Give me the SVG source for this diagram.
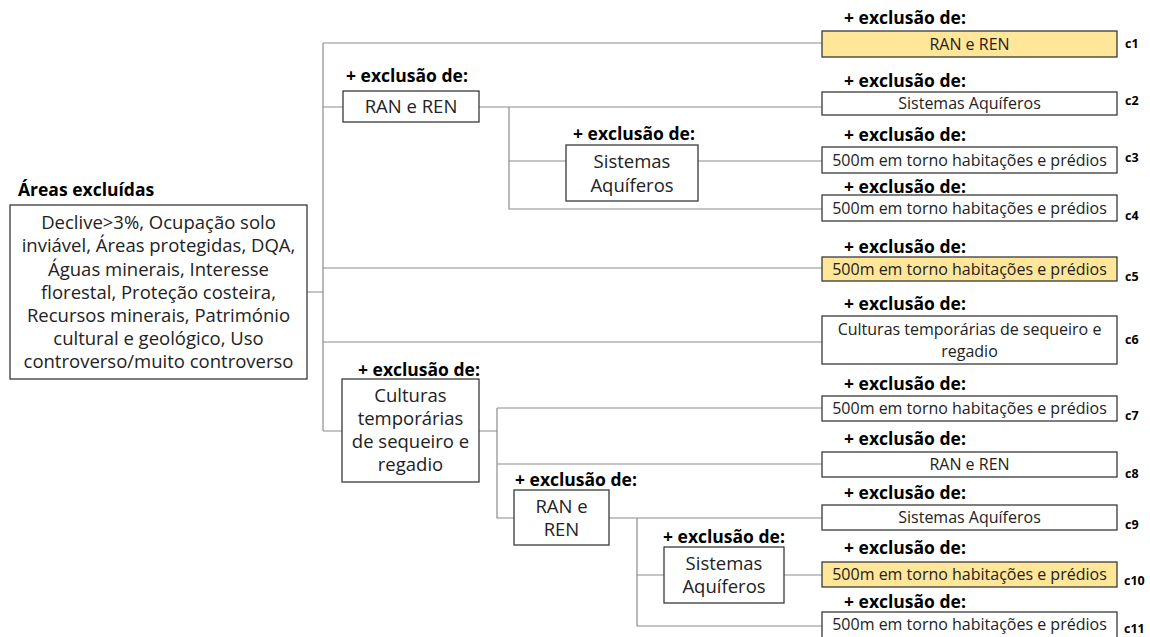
<svg xmlns="http://www.w3.org/2000/svg" width="1150" height="637" viewBox="0 0 1150 637">
<style>
.bx{fill:#ffffff;stroke:#3a3a3a;stroke-width:1.3}
.hl{fill:#FFE699;stroke:#3a3a3a;stroke-width:1.3}
.ln{fill:none;stroke:#8c8c8c;stroke-width:1.2}
.t{font-family:"Open Sans","Noto Sans",sans-serif;font-size:16px;fill:#222;text-anchor:middle}
.tl{font-family:"Open Sans","Noto Sans",sans-serif;font-size:18.5px;fill:#222;text-anchor:middle}
.lb{font-family:"Open Sans","Noto Sans",sans-serif;font-size:17.5px;font-weight:bold;fill:#000}
.c{font-family:"Open Sans","Noto Sans",sans-serif;font-size:12.5px;font-weight:bold;fill:#000}
</style>
<rect width="1150" height="637" fill="#ffffff"/>
<g id="connectors">
<path class="ln" d="M307,292 H323 M323,43 V431 M323,43 H822 M323,107 H343 M323,268 H822 M323,342 H822 M323,431 H342"/>
<path class="ln" d="M479,107 H822 M509,107 V209 H822 M509,161 H566 M698,161 H822"/>
<path class="ln" d="M479,431 H497 M497,408 V518 H514 M497,408 H822 M497,464 H822 M609,518 H822 M637,518 V626 H822 M637,575 H664 M784,575 H822"/>
</g>
<g id="root">
<text class="lb" x="18" y="196">Áreas excluídas</text>
<rect class="bx" x="10" y="205" width="297" height="174"/>
<text class="tl" x="158.5" y="229">Declive&gt;3%, Ocupação solo</text>
<text class="tl" x="158.5" y="252">inviável, Áreas protegidas, DQA,</text>
<text class="tl" x="158.5" y="276">Águas minerais, Interesse</text>
<text class="tl" x="158.5" y="299">florestal, Proteção costeira,</text>
<text class="tl" x="158.5" y="322">Recursos minerais, Património</text>
<text class="tl" x="158.5" y="345">cultural e geológico, Uso</text>
<text class="tl" x="158.5" y="368">controverso/muito controverso</text>
</g>
<g id="ran1">
<text class="lb" x="346" y="82">+ exclusão de:</text>
<rect class="bx" x="343" y="91" width="136" height="31"/>
<text class="tl" x="411" y="113">RAN e REN</text>
</g>
<g id="sis1">
<text class="lb" x="573" y="140">+ exclusão de:</text>
<rect class="bx" x="566" y="145" width="132" height="56"/>
<text class="tl" x="632" y="168">Sistemas</text>
<text class="tl" x="632" y="192">Aquíferos</text>
</g>
<g id="cult">
<text class="lb" x="358" y="376">+ exclusão de:</text>
<rect class="bx" x="342" y="379" width="137" height="103"/>
<text class="tl" x="410.5" y="402">Culturas</text>
<text class="tl" x="410.5" y="425">temporárias</text>
<text class="tl" x="410.5" y="448">de sequeiro e</text>
<text class="tl" x="410.5" y="471">regadio</text>
</g>
<g id="ran2">
<text class="lb" x="515" y="486">+ exclusão de:</text>
<rect class="bx" x="514" y="490" width="95" height="55"/>
<text class="tl" x="561.5" y="513">RAN e</text>
<text class="tl" x="561.5" y="536">REN</text>
</g>
<g id="sis2">
<text class="lb" x="663" y="543">+ exclusão de:</text>
<rect class="bx" x="664" y="547" width="120" height="56"/>
<text class="tl" x="724" y="570">Sistemas</text>
<text class="tl" x="724" y="593">Aquíferos</text>
</g>
<g id="c1">
<text class="lb" x="844" y="24">+ exclusão de:</text>
<rect class="hl" x="822" y="31" width="295" height="26"/>
<text class="t" x="969.5" y="50">RAN e REN</text>
<text class="c" x="1125" y="48">c1</text>
</g>
<g id="c2">
<text class="lb" x="844" y="87">+ exclusão de:</text>
<rect class="bx" x="822" y="92" width="295" height="23"/>
<text class="t" x="969.5" y="109">Sistemas Aquíferos</text>
<text class="c" x="1125" y="105">c2</text>
</g>
<g id="c3">
<text class="lb" x="844" y="141">+ exclusão de:</text>
<rect class="bx" x="822" y="147" width="295" height="26"/>
<text class="t" x="969.5" y="166">500m em torno habitações e prédios</text>
<text class="c" x="1125" y="162">c3</text>
</g>
<g id="c4">
<text class="lb" x="844" y="193">+ exclusão de:</text>
<rect class="bx" x="822" y="195" width="295" height="26"/>
<text class="t" x="969.5" y="214">500m em torno habitações e prédios</text>
<text class="c" x="1125" y="220">c4</text>
</g>
<g id="c5">
<text class="lb" x="844" y="253">+ exclusão de:</text>
<rect class="hl" x="822" y="257" width="295" height="24"/>
<text class="t" x="969.5" y="275">500m em torno habitações e prédios</text>
<text class="c" x="1125" y="281">c5</text>
</g>
<g id="c6">
<text class="lb" x="844" y="310">+ exclusão de:</text>
<rect class="bx" x="822" y="316" width="295" height="48"/>
<text class="t" x="969.5" y="335">Culturas temporárias de sequeiro e</text>
<text class="t" x="969.5" y="357">regadio</text>
<text class="c" x="1125" y="344">c6</text>
</g>
<g id="c7">
<text class="lb" x="844" y="390">+ exclusão de:</text>
<rect class="bx" x="822" y="396" width="295" height="25"/>
<text class="t" x="969.5" y="414">500m em torno habitações e prédios</text>
<text class="c" x="1125" y="420">c7</text>
</g>
<g id="c8">
<text class="lb" x="844" y="445">+ exclusão de:</text>
<rect class="bx" x="822" y="452" width="295" height="25"/>
<text class="t" x="969.5" y="470">RAN e REN</text>
<text class="c" x="1125" y="478">c8</text>
</g>
<g id="c9">
<text class="lb" x="844" y="499">+ exclusão de:</text>
<rect class="bx" x="822" y="505" width="295" height="25"/>
<text class="t" x="969.5" y="523">Sistemas Aquíferos</text>
<text class="c" x="1125" y="529">c9</text>
</g>
<g id="c10">
<text class="lb" x="844" y="554">+ exclusão de:</text>
<rect class="hl" x="822" y="562" width="295" height="25"/>
<text class="t" x="969.5" y="580">500m em torno habitações e prédios</text>
<text class="c" x="1124" y="585">c10</text>
</g>
<g id="c11">
<text class="lb" x="844" y="608">+ exclusão de:</text>
<rect class="bx" x="822" y="612" width="295" height="30"/>
<text class="t" x="969.5" y="630">500m em torno habitações e prédios</text>
<text class="c" x="1124" y="633">c11</text>
</g>
</svg>
